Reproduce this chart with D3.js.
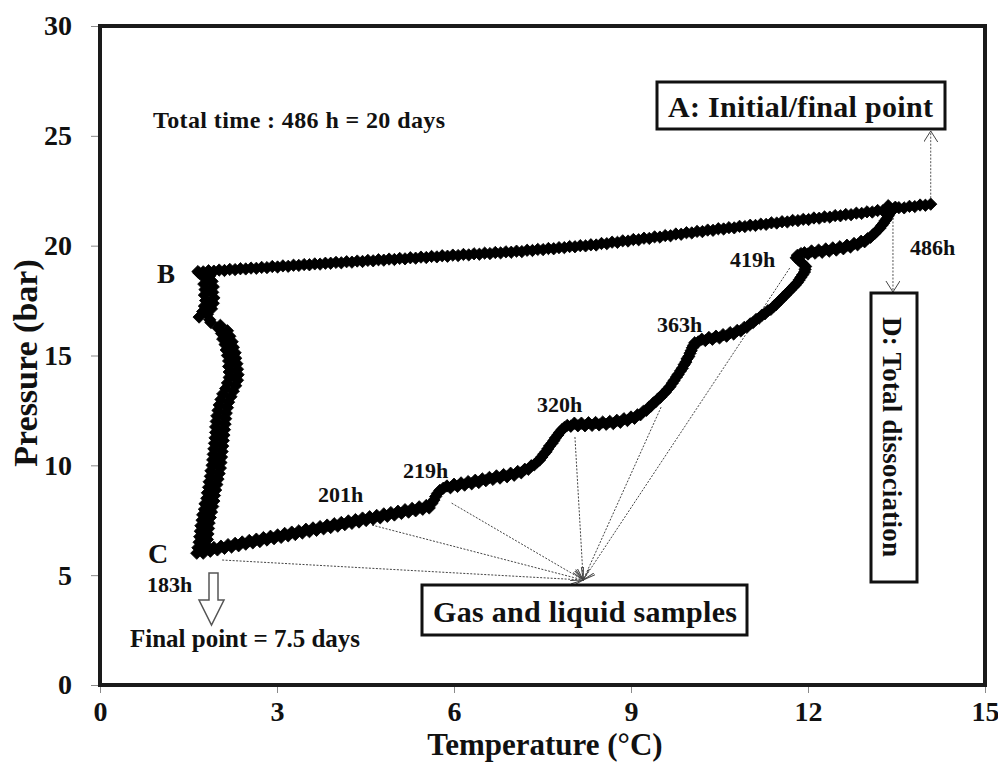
<!DOCTYPE html>
<html><head><meta charset="utf-8">
<script src="https://cdn.jsdelivr.net/npm/d3@7"></script>
<style>html,body{margin:0;padding:0;background:#fff}svg{display:block}</style>
</head><body><svg id="c" width="998" height="764"></svg>
<script>
// ---------------- DATA ----------------
const xTicks = [0, 3, 6, 9, 12, 15];
const yTicks = [0, 5, 10, 15, 20, 25, 30];

// A -> B : cooling
const coolTemp = [14.08,13.99,13.90,13.81,13.72,13.63,13.54,13.45,13.36,13.27,13.18,13.09,13.00,12.91,12.82,
  12.73,12.64,12.55,12.46,12.37,12.28,12.19,12.10,12.01,11.92,11.83,11.74,11.65,11.56,11.47,11.38,11.29,11.20,11.11,11.02,10.93,10.84,10.75,10.66,10.57,
  10.48,10.39,10.30,10.21,10.12,10.03,9.94,9.85,9.76,9.67,9.58,9.49,9.40,9.31,9.22,9.13,9.04,8.95,8.86,8.77,8.68,8.59,8.50,
  8.41,8.32,8.23,8.14,8.05,7.96,7.87,7.78,7.69,7.60,7.51,7.42,7.33,7.24,7.15,
  7.06,6.97,6.88,6.79,6.70,6.61,6.52,6.43,6.34,6.25,6.16,6.07,5.98,5.89,5.80,5.71,5.62,5.53,5.44,5.35,5.26,5.17,5.08,4.99,4.90,4.81,4.72,4.63,4.54,4.45,4.36,4.27,4.18,4.09,4.00,3.91,
  3.82,3.73,3.64,3.55,3.46,3.37,3.28,3.19,3.10,3.01,2.92,2.83,2.74,2.65,2.56,2.47,2.38,2.29,2.20,2.11,2.02,1.93,1.84,1.75,1.66];
const coolPress = [21.89,21.84,21.85,21.78,21.79,21.72,21.73,21.66,21.66,21.59,21.60,21.53,21.54,21.47,21.48,
  21.41,21.42,21.36,21.37,21.30,21.31,21.25,21.26,21.19,21.20,21.14,21.15,21.08,21.09,21.03,21.04,20.97,20.98,20.92,20.93,20.87,20.88,20.81,20.82,20.76,
  20.77,20.70,20.71,20.64,20.65,20.58,20.59,20.52,20.53,20.45,20.46,20.39,20.40,20.33,20.34,20.27,20.28,20.21,20.22,20.15,20.16,20.09,20.10,
  20.03,20.04,19.99,20.00,19.95,19.96,19.91,19.91,19.86,19.87,19.82,19.83,19.78,19.79,19.73,
  19.75,19.70,19.72,19.67,19.69,19.64,19.66,19.61,19.63,19.58,19.60,19.55,19.57,19.52,19.54,19.49,19.51,19.46,19.48,19.43,19.45,19.40,19.42,19.37,19.39,19.34,19.36,19.31,19.33,19.28,19.30,19.25,19.27,19.22,19.24,19.20,
  19.20,19.16,19.17,19.13,19.14,19.10,19.11,19.06,19.08,19.03,19.05,19.00,19.01,18.97,18.98,18.94,18.95,18.91,18.92,18.87,18.89,18.84,18.86,18.81,18.82];

// B -> C : hydrate formation
const holdTemp = [1.68,1.86,1.78,1.90,1.76,1.92,1.78,1.91,1.77,1.93,1.79,1.92,1.77,1.89,1.74,1.82,1.68,1.86,1.88,2.04,
  2.00,2.16,2.06,2.20,2.08,2.24,2.12,2.26,2.14,2.29,2.16,2.30,2.18,2.32,2.18,2.33,2.19,2.34,2.19,2.33,
  2.16,2.30,2.13,2.26,2.08,2.22,2.05,2.18,2.02,2.16,2.00,2.14,1.98,2.13,1.97,2.12,1.96,2.11,1.96,2.10,
  1.95,2.09,1.94,2.08,1.93,2.07,1.92,2.06,1.91,2.05,1.90,2.04,1.88,2.02,1.87,2.00,1.85,1.98,1.84,1.96,
  1.82,1.94,1.81,1.93,1.78,1.91,1.77,1.89,1.74,1.87,1.73,1.85,1.71,1.84,1.70,1.83,1.69,1.82,1.68,1.80,
  1.66,1.76,1.64];
const holdPress = [18.75,18.625,18.50,18.375,18.25,18.125,18.00,17.875,17.75,17.625,17.50,17.375,17.25,17.125,17.00,16.875,16.75,16.625,16.50,16.375,
  16.25,16.125,16.00,15.875,15.75,15.625,15.50,15.375,15.25,15.125,15.00,14.875,14.75,14.625,14.50,14.375,14.25,14.125,14.00,13.875,
  13.75,13.625,13.50,13.375,13.25,13.125,13.00,12.875,12.75,12.625,12.50,12.375,12.25,12.125,12.00,11.875,11.75,11.625,11.50,11.375,
  11.25,11.125,11.00,10.875,10.75,10.625,10.50,10.375,10.25,10.125,10.00,9.875,9.75,9.625,9.50,9.375,9.25,9.125,9.00,8.875,
  8.75,8.625,8.50,8.375,8.25,8.125,8.00,7.875,7.75,7.625,7.50,7.375,7.25,7.125,7.00,6.875,6.75,6.625,6.50,6.375,
  6.25,6.125,6.00];

// C -> end : stepwise heating / dissociation
const heatTemp = [1.75,1.81,1.87,1.93,1.99,2.05,2.11,2.17,2.23,2.29,2.35,2.41,2.47,2.53,2.59,2.65,2.71,2.77,2.83,2.89,
  2.95,3.01,3.07,3.13,3.19,3.25,3.31,3.37,3.43,3.49,3.55,3.61,3.67,3.73,3.79,3.85,3.91,3.97,4.03,4.09,
  4.15,4.21,4.27,4.33,4.39,4.45,4.51,4.57,4.63,4.69,4.75,4.81,4.87,4.93,4.99,5.05,5.11,5.17,5.23,5.29,
  5.35,5.41,5.47,5.53,5.58,5.63,5.66,5.69,5.72,5.76,5.82,5.88,5.94,6.00,6.06,6.12,6.18,6.24,6.30,6.36,
  6.42,6.48,6.54,6.60,6.66,6.72,6.78,6.84,6.90,6.96,7.02,7.08,7.14,7.20,7.26,7.31,7.36,7.41,7.45,7.49,
  7.52,7.56,7.59,7.62,7.66,7.69,7.72,7.76,7.79,7.83,7.87,7.92,7.98,8.04,8.10,8.16,8.22,8.28,8.34,8.40,
  8.46,8.52,8.58,8.64,8.70,8.76,8.82,8.88,8.94,9.00,9.06,9.11,9.16,9.21,9.26,9.30,9.34,9.38,9.42,9.46,
  9.50,9.54,9.58,9.62,9.66,9.70,9.73,9.77,9.80,9.84,9.87,9.90,9.93,9.95,9.98,10.00,10.02,10.04,10.06,10.08,
  10.14,10.20,10.26,10.32,10.38,10.44,10.50,10.56,10.62,10.68,10.74,10.80,10.86,10.92,10.97,11.02,11.07,11.12,11.17,11.22,
  11.27,11.32,11.37,11.42,11.46,11.50,11.54,11.58,11.62,11.66,11.70,11.74,11.78,11.82,11.85,11.88,11.91,11.94,11.95,11.96,
  11.92,11.88,11.84,11.80,11.82,11.88,11.94,12.00,12.06,12.12,12.18,12.24,12.30,12.36,12.42,12.48,12.54,12.60,12.66,12.72,
  12.78,12.84,12.90,12.96,13.01,13.06,13.10,13.14,13.18,13.22,13.25,13.28,13.31,13.34,13.36,13.38,13.40,13.39,13.36,13.48];
const heatPress = [6.00,6.20,6.09,6.26,6.15,6.32,6.22,6.39,6.28,6.45,6.34,6.51,6.41,6.58,6.47,6.64,6.53,6.71,6.60,6.77,
  6.66,6.83,6.72,6.90,6.79,6.96,6.85,7.02,6.92,7.09,6.98,7.15,7.04,7.21,7.11,7.28,7.17,7.34,7.23,7.40,
  7.30,7.47,7.36,7.53,7.42,7.60,7.49,7.66,7.55,7.72,7.61,7.79,7.68,7.85,7.74,7.91,7.81,7.98,7.87,8.04,
  7.93,8.11,8.00,8.17,8.06,8.28,8.42,8.58,8.72,8.86,8.96,9.06,8.98,9.14,9.04,9.20,9.10,9.26,9.16,9.32,
  9.22,9.38,9.30,9.45,9.36,9.52,9.42,9.58,9.48,9.64,9.55,9.72,9.66,9.82,9.82,9.98,10.02,10.16,10.24,10.38,
  10.50,10.62,10.75,10.88,11.00,11.12,11.25,11.38,11.50,11.62,11.72,11.82,11.78,11.92,11.80,11.92,11.80,11.94,11.82,11.95,
  11.84,11.97,11.87,12.00,11.90,12.05,11.96,12.12,12.04,12.20,12.14,12.30,12.30,12.46,12.50,12.64,12.70,12.84,12.90,13.03,
  13.10,13.24,13.32,13.46,13.58,13.74,13.86,14.02,14.14,14.30,14.42,14.58,14.70,14.85,14.96,15.10,15.22,15.35,15.46,15.58,
  15.62,15.74,15.68,15.82,15.74,15.88,15.80,15.95,15.88,16.04,15.98,16.14,16.12,16.28,16.30,16.44,16.50,16.64,16.70,16.84,
  16.90,17.04,17.10,17.24,17.32,17.45,17.54,17.66,17.76,17.88,17.98,18.10,18.20,18.32,18.44,18.56,18.68,18.80,18.92,19.05,
  19.15,19.25,19.35,19.45,19.56,19.64,19.68,19.62,19.76,19.66,19.80,19.70,19.85,19.75,19.90,19.80,19.95,19.86,20.02,19.94,
  20.10,20.04,20.20,20.18,20.32,20.38,20.50,20.58,20.70,20.80,20.92,21.02,21.14,21.24,21.36,21.46,21.58,21.70,21.82,21.75];

// gas & liquid sampling points and their times
const sampleTemp  = [2.07, 4.61, 5.96, 8.05, 9.51, 11.69];
const samplePress = [5.69, 7.28, 8.28, 11.29, 12.65, 18.98];
const sampleTarget = [8.19, 4.78];
const hourLabels = ["183h", "201h", "219h", "320h", "363h", "419h", "486h"];

// ---------------- CHART ----------------
const FONT = "'Liberation Serif','Times New Roman',Times,serif";
const svg = d3.select("#c");
const x = d3.scaleLinear().domain([0, 15]).range([100, 985]);
const y = d3.scaleLinear().domain([0, 30]).range([685, 26]);

const defs = svg.append("defs");
defs.append("marker").attr("id", "chev")
  .attr("markerUnits", "userSpaceOnUse")
  .attr("markerWidth", 14).attr("markerHeight", 16)
  .attr("refX", 11).attr("refY", 7).attr("orient", "auto")
  .append("path").attr("d", "M0,0 L11,7 L0,14")
  .attr("fill", "none").attr("stroke", "#444").attr("stroke-width", 1);

// axes
const yAxis = svg.append("g").attr("transform", "translate(100,0)")
  .call(d3.axisLeft(y).tickValues(yTicks).tickSize(9).tickPadding(19).tickFormat(d3.format("d")));
const xAxis = svg.append("g").attr("transform", "translate(0,685)")
  .call(d3.axisBottom(x).tickValues(xTicks).tickSize(8).tickPadding(8).tickFormat(d3.format("d")));
[yAxis, xAxis].forEach(g => {
  g.select(".domain").remove();
  g.selectAll(".tick line").attr("stroke", "#8a8a8a").attr("stroke-width", 1);
  g.selectAll(".tick text").attr("font-family", FONT).attr("font-weight", "bold")
    .attr("font-size", 28).attr("fill", "#111");
});

// frame
svg.append("rect").attr("x", x(0)).attr("y", y(30))
  .attr("width", x(15) - x(0)).attr("height", y(0) - y(30))
  .attr("fill", "none").attr("stroke", "#1a1a1a").attr("stroke-width", 4);

// axis titles
svg.append("text").attr("x", 545).attr("y", 755).attr("text-anchor", "middle")
  .attr("font-family", FONT).attr("font-weight", "bold").attr("font-size", 31)
  .attr("fill", "#111").text("Temperature  (°C)");
svg.append("text").attr("transform", "translate(37,363) rotate(-90)").attr("text-anchor", "middle")
  .attr("font-family", FONT).attr("font-weight", "bold").attr("font-size", 34)
  .attr("fill", "#111").text("Pressure (bar)");

// leader lines to "Gas and liquid samples"
const tx = x(sampleTarget[0]), ty = y(sampleTarget[1]);
sampleTemp.forEach((t, i) => {
  svg.append("line").attr("x1", x(t)).attr("y1", y(samplePress[i]))
    .attr("x2", tx).attr("y2", ty)
    .attr("stroke", "#444").attr("stroke-width", 1).attr("stroke-dasharray", "2,1.5")
    .attr("marker-end", "url(#chev)");
});

// data markers (diamonds)
const pts = [];
coolTemp.forEach((t, i) => { if (i < coolPress.length) pts.push([t, coolPress[i]]); });
holdTemp.forEach((t, i) => { if (i < holdPress.length) pts.push([t, holdPress[i]]); });
heatTemp.forEach((t, i) => { if (i < heatPress.length) pts.push([t, heatPress[i]]); });
const diamond = d3.symbol().type(d3.symbolSquare).size(76);
svg.append("g").selectAll("path").data(pts).join("path")
  .attr("d", diamond)
  .attr("transform", d => `translate(${x(d[0])},${y(d[1])}) rotate(45)`)
  .attr("fill", "#000").attr("stroke", "#000").attr("stroke-width", 0.8);

// helper for bold text
function txt(str, px, py, size, opts = {}) {
  const t = svg.append("text").attr("x", px).attr("y", py)
    .attr("font-family", FONT).attr("font-weight", "bold").attr("font-size", size)
    .attr("fill", "#111").text(str);
  if (opts.len) t.attr("textLength", opts.len);
  if (opts.transform) t.attr("transform", opts.transform);
  return t;
}

// A arrow (initial/final point)
const ax = x(coolTemp[0]);
svg.append("line").attr("x1", ax).attr("y1", y(coolPress[0]) - 6).attr("x2", ax).attr("y2", 131)
  .attr("stroke", "#555").attr("stroke-width", 1).attr("stroke-dasharray", "2,1.5")
  .attr("marker-end", "url(#chev)");
// D arrow (total dissociation)
const dx = x(13.44);
svg.append("line").attr("x1", dx).attr("y1", 218).attr("x2", dx).attr("y2", 292)
  .attr("stroke", "#555").attr("stroke-width", 1).attr("stroke-dasharray", "2,1.5")
  .attr("marker-end", "url(#chev)");

// boxes
svg.append("rect").attr("x", 657).attr("y", 82).attr("width", 288).attr("height", 47)
  .attr("fill", "#fff").attr("stroke", "#111").attr("stroke-width", 3);
txt("A: Initial/final point", 668, 117, 30, { len: 265 });

svg.append("rect").attr("x", 422).attr("y", 585).attr("width", 325).attr("height", 50)
  .attr("fill", "#fff").attr("stroke", "#111").attr("stroke-width", 3);
txt("Gas and liquid samples", 433, 622, 30, { len: 304 });

svg.append("rect").attr("x", 871).attr("y", 293).attr("width", 46).attr("height", 289)
  .attr("fill", "#fff").attr("stroke", "#111").attr("stroke-width", 3);
txt("D: Total dissociation", 0, 0, 27, { len: 240, transform: "translate(883,317) rotate(90)" });

// letters & notes
txt("B", 157, 283, 27);
txt("C", 148, 563, 28);
txt("Total time : 486 h = 20 days", 153, 128, 24, { len: 292 });
txt("Final point = 7.5 days", 130, 647, 25, { len: 230 });

// hour labels
const hourPos = [[147, 592], [318, 502], [403, 478], [537, 412], [657, 332], [730, 267], [910, 255]];
hourLabels.forEach((h, i) => txt(h, hourPos[i][0], hourPos[i][1], 22));

// hollow arrow below C
svg.append("path")
  .attr("d", "M209,573 L218,573 L218,600 L224,600 L211.5,625 L199,600 L209,600 Z")
  .attr("fill", "#fff").attr("stroke", "#555").attr("stroke-width", 1.5);
</script></body></html>
